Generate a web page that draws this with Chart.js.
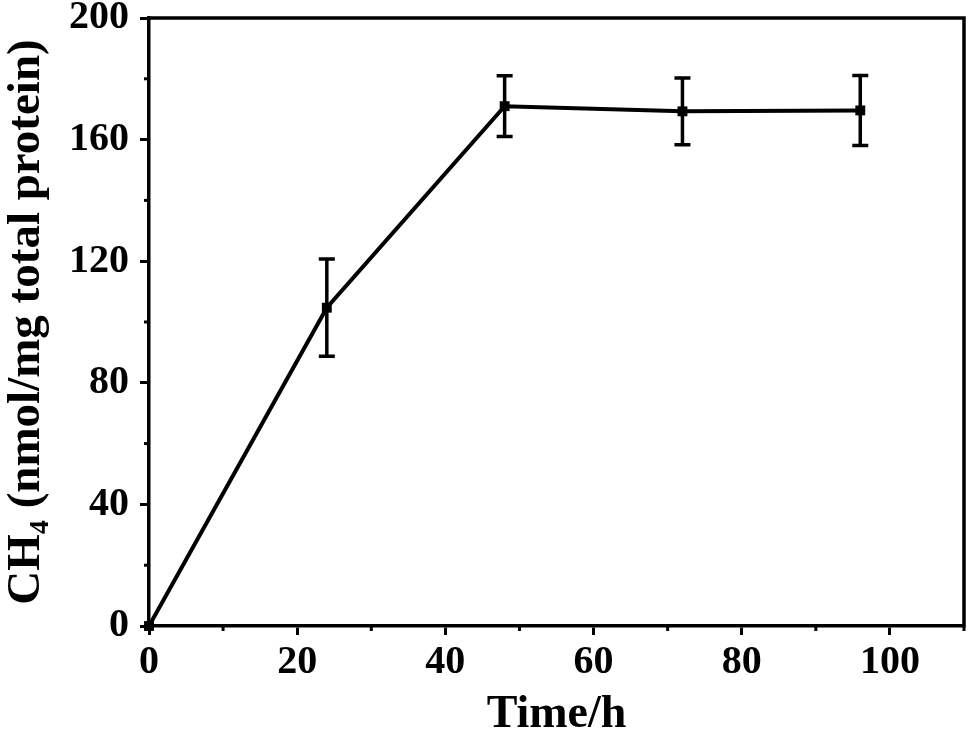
<!DOCTYPE html>
<html>
<head>
<meta charset="utf-8">
<script src="https://cdn.jsdelivr.net/npm/chart.js@4.4.1/dist/chart.umd.min.js"></script>
<style>
  html, body { margin: 0; padding: 0; background: #fff; }
  #wrap { width: 971px; height: 738px; }
</style>
</head>
<body>
<div id="wrap"><canvas id="c"></canvas></div>
<script>
// Données
const hours = [0, 24, 48, 72, 96];
const ch4 = [0, 104.7, 171, 169.3, 169.6];
const ch4Err = [0, 16, 10, 11, 11.5];
const xTicks = [0, 20, 40, 60, 80, 100];
const xMinor = [10, 30, 50, 70, 90, 110];
const yTicks = [0, 40, 80, 120, 160, 200];
const yMinor = [20, 60, 100, 140, 180];

const FONT = "'Liberation Serif', 'Times New Roman', serif";

// Barres d'erreur, petites graduations et cadre
const extras = {
    id: 'extras',
    afterDatasetsDraw(chart) {
        const ctx = chart.ctx;
        const xs = chart.scales.x, ys = chart.scales.y;
        const a = chart.chartArea;
        ctx.save();
        ctx.strokeStyle = '#000';
        ctx.lineWidth = 3.5;
        ctx.lineCap = 'butt';
        hours.forEach((h, i) => {
            if (!ch4Err[i]) return;
            const px = xs.getPixelForValue(h);
            const top = ys.getPixelForValue(ch4[i] + ch4Err[i]);
            const bot = ys.getPixelForValue(ch4[i] - ch4Err[i]);
            ctx.beginPath();
            ctx.moveTo(px, top); ctx.lineTo(px, bot);
            ctx.moveTo(px - 8, top); ctx.lineTo(px + 8, top);
            ctx.moveTo(px - 8, bot); ctx.lineTo(px + 8, bot);
            ctx.stroke();
        });
        // petites graduations
        ctx.lineWidth = 3;
        xMinor.forEach(v => {
            const px = xs.getPixelForValue(v);
            ctx.beginPath();
            ctx.moveTo(px, a.bottom); ctx.lineTo(px, a.bottom + 5);
            ctx.stroke();
        });
        yMinor.forEach(v => {
            const py = ys.getPixelForValue(v);
            ctx.beginPath();
            ctx.moveTo(a.left, py); ctx.lineTo(a.left - 5, py);
            ctx.stroke();
        });
        // cadre haut et droite
        ctx.lineWidth = 3.5;
        ctx.beginPath();
        ctx.moveTo(a.left - 1.5, a.top); ctx.lineTo(a.right, a.top); ctx.lineTo(a.right, a.bottom + 1.5);
        ctx.stroke();
        ctx.restore();
    }
};

const ctx = document.getElementById('c').getContext('2d');
new Chart(ctx, {
    type: 'line',
    data: {
        datasets: [{
            data: hours.map((h, i) => ({ x: h, y: ch4[i] })),
            borderColor: '#000',
            backgroundColor: '#000',
            borderWidth: 4,
            pointStyle: 'rect',
            pointRadius: 7,
            pointBorderWidth: 0,
            tension: 0,
            clip: false,
        }],
    },
    options: {
        responsive: true,
        maintainAspectRatio: false,
        animation: false,
        plugins: { legend: { display: false }, tooltip: { enabled: false } },
        layout: { padding: { top: 18, right: 5, left: 0, bottom: 0 } },
        scales: {
            x: {
                type: 'linear',
                min: 0,
                max: 110,
                afterBuildTicks: (s) => { s.ticks = xTicks.map(v => ({ value: v })); },
                afterFit: (s) => { s.height = 112; s.paddingLeft = 0; s.paddingRight = 0; },
                border: { display: true, color: '#000', width: 3.5 },
                grid: { drawOnChartArea: false, drawTicks: true, tickLength: 9, tickWidth: 3, tickColor: '#000' },
                ticks: { color: '#000', font: { family: FONT, size: 40, weight: 'bold' }, padding: 4, maxRotation: 0 },
                title: { display: true, text: 'Time/h', color: '#000', font: { family: FONT, size: 46, weight: 'bold', lineHeight: 1.0 }, padding: { top: 0, bottom: 0 } },
            },
            y: {
                type: 'linear',
                min: 0,
                max: 200,
                afterBuildTicks: (s) => { s.ticks = yTicks.map(v => ({ value: v })); },
                afterFit: (s) => { s.width = 149; s.paddingTop = 0; s.paddingBottom = 0; },
                border: { display: true, color: '#000', width: 3.5 },
                grid: { drawOnChartArea: false, drawTicks: true, tickLength: 9, tickWidth: 3, tickColor: '#000' },
                ticks: { color: '#000', font: { family: FONT, size: 40, weight: 'bold' }, padding: 11 },
                title: { display: true, text: 'CH\u2084 (nmol/mg total protein)', color: '#000', font: { family: FONT, size: 47, weight: 'bold', lineHeight: 1.15 }, padding: { top: 0, bottom: 0 } },
            },
        },
    },
    plugins: [extras],
});
</script>
</body>
</html>
